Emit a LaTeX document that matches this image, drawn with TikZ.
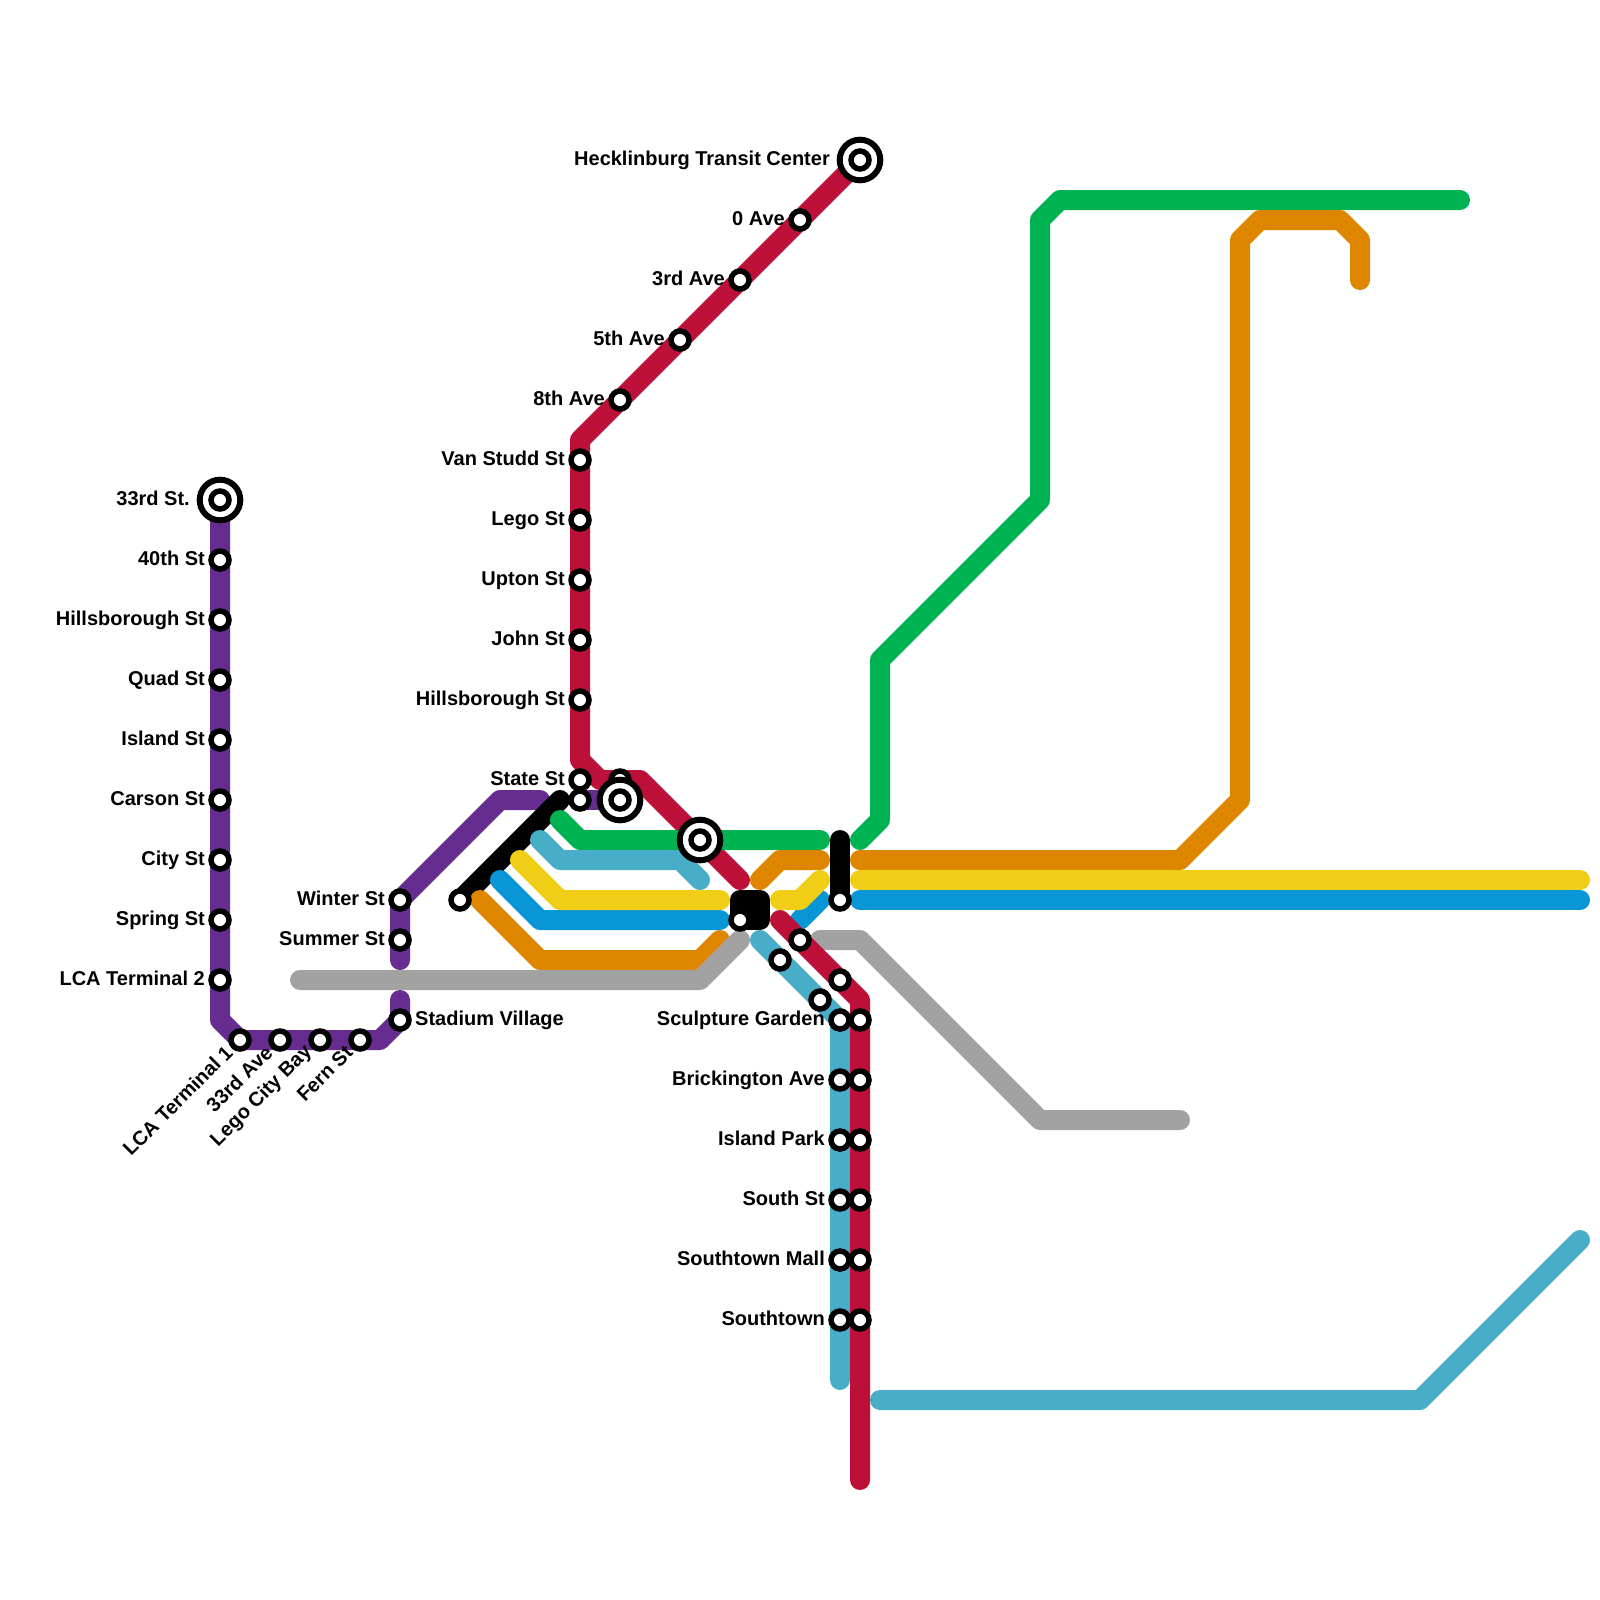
\documentclass[tikz,border=0pt]{standalone}
\usepackage{fontspec}
\setmainfont{Liberation Sans}
\usetikzlibrary{backgrounds}
\definecolor{cPurple}{HTML}{662C90}
\definecolor{cRed}{HTML}{BD1038}
\definecolor{cGreen}{HTML}{00B251}
\definecolor{cTeal}{HTML}{48AEC8}
\definecolor{cYellow}{HTML}{F0CE15}
\definecolor{cBlue}{HTML}{0896D7}
\definecolor{cOrange}{HTML}{DF8600}
\definecolor{cGrey}{HTML}{A2A2A2}
\tikzset{
  stn/.style={circle,draw=black,fill=white,line width=5.5pt,minimum size=18pt,inner sep=0pt,outer sep=0pt},
  term/.style={circle,draw=black,fill=white,line width=6pt,minimum size=40.6pt,inner sep=0pt,outer sep=0pt},
  lbl/.style={font=\fontsize{20}{22}\selectfont\bfseries,inner sep=0pt,text=black},
  metro/.style={line width=20pt,line cap=round,line join=round},
}
\newcommand\wpt[3]{\coordinate (#1) at (#2,#3);}
\newcommand\stnL[4]{\node[stn] (#1) at (#2,#3) {}; \node[lbl,anchor=base east] (#1-l) at (#2-15,#3+5) {#4};}
\newcommand\stnR[4]{\node[stn] (#1) at (#2,#3) {}; \node[lbl,anchor=base west] (#1-l) at (#2+15,#3+5) {#4};}
\newcommand\stnD[4]{\node[stn] (#1) at (#2,#3) {}; \node[lbl,anchor=east,rotate=45] (#1-l) at (#2-11,#3+9) {#4};}
\newcommand\stnP[3]{\node[stn] (#1) at (#2,#3) {};}
\begin{document}
\begin{tikzpicture}[x=1pt,y=-1pt]
\useasboundingbox (0,0) rectangle (1600,1600);
% waypoints
\wpt{pa}{220}{1020}\wpt{pb}{380}{1040}\wpt{pc}{400}{1000}\wpt{pd}{400}{960}\wpt{pe}{500}{800}\wpt{pf}{540}{800}
\wpt{ra}{580}{440}\wpt{rb}{580}{760}\wpt{rc}{600}{780}\wpt{rd}{640}{780}\wpt{re}{740}{880}\wpt{rf}{780}{920}\wpt{rg}{860}{1000}\wpt{rh}{860}{1480}
\wpt{ta}{760}{940}\wpt{tb}{840}{1380}\wpt{tc}{880}{1400}\wpt{td}{1420}{1400}\wpt{te}{1580}{1240}
\wpt{tf}{540}{840}\wpt{tg}{560}{860}\wpt{th}{680}{860}\wpt{ti}{700}{880}
\wpt{ga}{560}{820}\wpt{gb}{580}{840}\wpt{gc}{820}{840}\wpt{gd}{860}{840}\wpt{ge}{880}{820}\wpt{gf}{880}{660}\wpt{gg}{1040}{500}\wpt{gh}{1040}{220}\wpt{gi}{1060}{200}\wpt{gj}{1460}{200}
\wpt{oa}{480}{900}\wpt{ob}{540}{960}\wpt{oc}{700}{960}\wpt{od}{720}{940}
\wpt{oe}{760}{880}\wpt{of}{780}{860}\wpt{og}{820}{860}
\wpt{oh}{860}{860}\wpt{oi}{1180}{860}\wpt{oj}{1240}{800}\wpt{ok}{1240}{240}\wpt{ol}{1260}{220}\wpt{om}{1340}{220}\wpt{on}{1360}{240}\wpt{oo}{1360}{280}
\wpt{ya}{520}{860}\wpt{yb}{560}{900}\wpt{yc}{720}{900}
\wpt{yd}{780}{900}\wpt{ye}{800}{900}\wpt{yf}{820}{880}
\wpt{yg}{860}{880}\wpt{yh}{1580}{880}
\wpt{ba}{500}{880}\wpt{bb}{540}{920}\wpt{bc}{720}{920}
\wpt{bd}{800}{920}\wpt{be}{820}{900}
\wpt{bf}{860}{900}\wpt{bg}{1580}{900}
\wpt{xa}{300}{980}\wpt{xb}{700}{980}\wpt{xc}{740}{940}
\wpt{xd}{820}{940}\wpt{xe}{860}{940}\wpt{xf}{1040}{1120}\wpt{xg}{1180}{1120}
\wpt{ka}{560}{800}\wpt{kb}{840}{840}\wpt{kc}{760}{900}\wpt{kd}{760}{920}\wpt{ke}{740}{900}
% purple line stations
\node[term] (t33) at (220,500) {};
\node[lbl,anchor=base east] (t33-l) at (190,505) {33rd St.};
\stnP{s33}{220}{500}
\stnL{s40}{220}{560}{40th St}
\stnL{shb}{220}{620}{Hillsborough St}
\stnL{squ}{220}{680}{Quad St}
\stnL{sis}{220}{740}{Island St}
\stnL{sca}{220}{800}{Carson St}
\stnL{sci}{220}{860}{City St}
\stnL{ssp}{220}{920}{Spring St}
\stnL{sl2}{220}{980}{LCA Terminal 2}
\stnD{sl1}{240}{1040}{LCA Terminal 1}
\stnD{s3a}{280}{1040}{33rd Ave}
\stnD{slc}{320}{1040}{Lego City Bay}
\stnD{sfe}{360}{1040}{Fern St}
\stnR{ssv}{400}{1020}{Stadium Village}
\stnL{ssu}{400}{940}{Summer St}
\stnL{swi}{400}{900}{Winter St}
% red line stations
\node[term] (thk) at (860,160) {};
\node[lbl,anchor=base east] (thk-l) at (830,165) {Hecklinburg Transit Center};
\stnP{shk}{860}{160}
\stnL{s0}{800}{220}{0 Ave}
\stnL{s3}{740}{280}{3rd Ave}
\stnL{s5}{680}{340}{5th Ave}
\stnL{s8}{620}{400}{8th Ave}
\stnL{svs}{580}{460}{Van Studd St}
\stnL{sle}{580}{520}{Lego St}
\stnL{sup}{580}{580}{Upton St}
\stnL{sjo}{580}{640}{John St}
\stnL{shi}{580}{700}{Hillsborough St}
\stnL{sst}{580}{780}{State St}
\stnP{sst2}{580}{800}
\stnP{shid}{620}{780}
\node[term] (tcu) at (620,800) {};
\stnP{scu}{620}{800}
\node[term] (tmi) at (700,840) {};
\stnP{smi}{700}{840}
\stnP{sbk}{460}{900}
\stnP{ssq}{740}{920}
\stnP{skv}{840}{900}
\stnP{sr1}{800}{940}
\stnP{sr2}{840}{980}
\stnP{st1}{780}{960}
\stnP{st2}{820}{1000}
\stnL{sga}{840}{1020}{Sculpture Garden}
\stnP{sga2}{860}{1020}
\stnL{sbr}{840}{1080}{Brickington Ave}
\stnP{sbr2}{860}{1080}
\stnL{sip}{840}{1140}{Island Park}
\stnP{sip2}{860}{1140}
\stnL{sso}{840}{1200}{South St}
\stnP{sso2}{860}{1200}
\stnL{ssm}{840}{1260}{Southtown Mall}
\stnP{ssm2}{860}{1260}
\stnL{sts}{840}{1320}{Southtown}
\stnP{sts2}{860}{1320}
% lines
\begin{scope}[on background layer]
\draw[metro,cPurple] (t33.center) -- (pa) -- (sl1.center) -- (pb) -- (ssv.center) -- (pc);
\draw[metro,cPurple] (pd) -- (swi.center) -- (pe) -- (pf);
\draw[metro,cPurple] (sst2.center) -- (scu.center);
\draw[metro,black] (sbk.center) -- (ka);
\draw[metro,black] (kb) -- (skv.center);
\draw[metro,black,fill=black] (ke) -- (kc) -- (kd) -- (ssq.center) -- cycle;
\draw[metro,cRed] (thk.center) -- (ra) -- (rb) -- (rc) -- (rd) -- (re);
\draw[metro,cGreen] (ga) -- (gb) -- (gc);
\draw[metro,cGreen] (gd) -- (ge) -- (gf) -- (gg) -- (gh) -- (gi) -- (gj);
\draw[metro,cTeal] (tf) -- (tg) -- (th) -- (ti);
\draw[metro,cTeal] (ta) -- (sga.center) -- (tb);
\draw[metro,cTeal] (tc) -- (td) -- (te);
\draw[metro,cOrange] (oa) -- (ob) -- (oc) -- (od);
\draw[metro,cOrange] (oe) -- (of) -- (og);
\draw[metro,cOrange] (oh) -- (oi) -- (oj) -- (ok) -- (ol) -- (om) -- (on) -- (oo);
\draw[metro,cGrey] (xa) -- (xb) -- (xc);
\draw[metro,cGrey] (xd) -- (xe) -- (xf) -- (xg);
\draw[metro,cBlue] (ba) -- (bb) -- (bc);
\draw[metro,cBlue] (bd) -- (be);
\draw[metro,cBlue] (bf) -- (bg);
\draw[metro,cYellow] (ya) -- (yb) -- (yc);
\draw[metro,cYellow] (yd) -- (ye) -- (yf);
\draw[metro,cYellow] (yg) -- (yh);
\draw[metro,cRed] (rf) -- (rg) -- (rh);
\end{scope}
\end{tikzpicture}
\end{document}
